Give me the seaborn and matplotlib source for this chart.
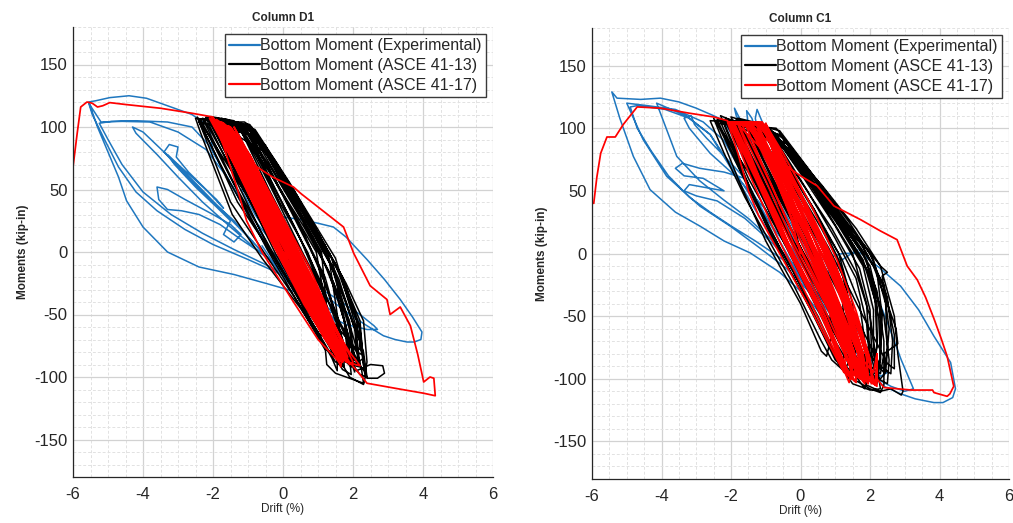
import matplotlib
matplotlib.use("Agg")
import matplotlib.pyplot as plt
import seaborn as sns
import pandas as pd
from matplotlib.ticker import MultipleLocator

# ---------------- data (drift %, moment kip-in) ----------------
series_labels = ["Bottom Moment (Experimental)", "Bottom Moment (ASCE 41-13)", "Bottom Moment (ASCE 41-17)"]
panel_titles = ["Column D1", "Column C1"]
x_ticks = [-6, -4, -2, 0, 2, 4, 6]
y_ticks = [-150, -100, -50, 0, 50, 100, 150]

d1_exp = [
    (0.0, 0), (-0.6, 30), (-1.2, 62), (-1.6, 88), (-1.75, 103), (-1.6, 100), (-1.0, 68), (-0.3, 30), (0.3, 0),
    (0.8, -25), (1.1, -42), (0.9, -44), (0.3, -20), (-0.5, 20), (-1.1, 55), (-1.5, 80), (-1.9, 104), (-1.7, 103),
    (-1.2, 78), (-0.5, 40), (0.2, 5), (0.9, -32), (1.3, -50), (1.1, -52), (0.4, -30), (-0.4, 0),
    (-1.0, 30), (-1.6, 60), (-2.1, 85), (-2.6, 100), (-3.3, 104), (-4.2, 105), (-4.9, 104.5), (-5.25, 103),
    (-5.0, 90), (-4.6, 70), (-4.0, 48), (-3.2, 30), (-2.3, 15), (-1.4, 2), (-0.5, -10), (0.3, -22), (1.0, -36),
    (1.4, -48), (1.2, -50), (0.6, -35), (-0.2, -12),
    (-1.0, 12), (-1.8, 35), (-2.6, 58), (-3.4, 80), (-4.0, 96), (-4.3, 100), (-4.2, 95), (-3.6, 78), (-3.0, 60),
    (-2.3, 40), (-1.5, 20), (-0.8, 3), (0.0, -15), (0.7, -30), (1.2, -42), (1.0, -44), (0.3, -25),
    (-0.6, 0), (-1.4, 25), (-2.2, 45), (-2.8, 62), (-3.2, 74), (-3.4, 80), (-3.25, 86), (-3.0, 84), (-3.05, 76),
    (-2.7, 64), (-2.2, 50), (-1.7, 35), (-1.9, 42), (-2.4, 55), (-3.0, 70), (-3.3, 78), (-3.1, 70), (-2.5, 52),
    (-1.9, 36), (-1.5, 25), (-1.7, 14), (-1.4, 8), (-1.2, 14), (-1.5, 22),
    (-2.0, 30), (-2.8, 42), (-3.3, 50), (-3.6, 52), (-3.55, 42), (-3.3, 34), (-2.9, 33), (-2.4, 30), (-1.8, 22),
    (-1.2, 10), (-0.4, -5), (0.4, -20), (1.0, -35),
    (0.2, -10), (-0.8, 25), (-1.5, 55), (-2.0, 80), (-2.1, 100), (-2.6, 110), (-3.2, 116), (-3.9, 123), (-4.4, 125),
    (-4.95, 123.5), (-5.35, 121), (-5.55, 120), (-5.3, 100), (-5.0, 80), (-4.7, 60), (-4.47, 41), (-4.0, 20),
    (-3.3, 0), (-2.4, -12), (-1.4, -18), (-0.5, -25), (0.5, -33), (1.2, -45), (1.5, -55), (1.3, -56), (0.6, -35),
    (-0.2, -5),
    (-1.0, 30), (-1.6, 60), (-2.2, 82), (-3.0, 96), (-3.8, 104), (-4.6, 104.5), (-5.2, 104), (-5.55, 119),
    (-5.45, 110), (-5.1, 90), (-4.7, 68), (-4.2, 48), (-3.6, 33), (-2.8, 18), (-2.0, 6), (-1.0, -6), (-0.2, -16),
    (0.6, -28),
    (-0.2, 5), (-0.8, 30), (-1.2, 50), (-1.0, 48), (-0.5, 35), (0.0, 28), (0.5, 26), (1.0, 23), (1.44, 20),
    (1.8, 12), (2.4, -6), (2.9, -22), (3.35, -38), (3.7, -52), (3.97, -64), (3.94, -70), (3.75, -72), (3.54, -72),
    (3.2, -70), (2.87, -67), (2.4, -59), (1.9, -50), (1.44, -40), (0.9, -30), (0.3, -18), (-0.3, 0),
    (0.5, -20), (1.4, -35), (2.2, -50), (2.6, -59), (2.7, -62), (2.4, -62), (1.8, -58), (1.2, -50), (0.6, -38),
    (0.0, -20), (-0.6, 5),
]

d1_asce13 = [
    (0.0, 0),
    (-2.45, 108), (-1.5, 40), (-0.55, 0), (1.05, -66), (1.3, -70), (1.2, -40), (0.95, 0), (-0.3, 60), (-1.0, 100), (-1.3, 104),
    (-2.35, 106), (-0.45, 2), (1.2, -78), (1.4, -80), (1.25, -45), (1.1, 0), (-0.2, 62), (-0.95, 98), (-1.2, 102),
    (-2.2, 107), (-0.35, 0), (1.5, -88), (1.7, -90), (1.55, -50), (1.3, -2), (0.0, 58), (-0.9, 100), (-1.1, 104),
    (-2.05, 104), (-0.2, -2), (1.7, -94), (1.95, -98), (1.8, -60), (1.4, -5), (0.2, 55), (-0.8, 98), (-1.15, 102),
    (-1.95, 103), (-0.1, 0), (1.9, -100), (2.3, -106), (2.35, -100), (2.2, -70), (1.5, -5), (0.3, 50), (-0.95, 102),
    (-2.5, 107), (-2.35, 95), (-1.45, 30), (-0.6, -5), (0.5, -45), (1.2, -75), (1.25, -90), (1.5, -97), (2.0, -102),
    (2.3, -105), (2.25, -95), (2.05, -72), (1.45, -15), (0.6, 30), (-0.5, 80), (-1.0, 100), (-1.6, 106), (-2.2, 108),
    (-2.3, 100), (-1.3, 40), (-0.3, -2), (0.9, -55), (1.6, -85), (1.8, -88), (1.7, -70), (1.2, -20), (0.4, 25), (-0.5, 72), (-1.2, 102),
    (-1.8, 104), (-0.8, 45), (0.2, -10), (1.3, -62), (2.1, -95), (2.5, -90), (2.85, -91), (2.9, -97), (2.7, -101),
    (2.4, -101), (2.3, -90), (2.2, -55), (1.6, -15), (0.8, 25), (-0.2, 70), (-0.9, 97),
    (-1.6, 102), (-0.6, 42), (0.3, -8), (1.2, -55), (1.8, -82), (2.0, -84), (1.9, -62), (1.4, -12), (0.5, 32), (-0.4, 75), (-1.05, 101),
    (-2.1, 105), (-1.0, 45), (0.0, -5), (1.1, -60), (1.6, -90), (1.75, -92), (1.7, -70), (1.1, -25), (0.3, 22), (-0.6, 70), (-1.3, 103),
    (-1.9, 106), (-0.9, 48), (0.1, -8), (1.2, -58), (1.9, -90), (2.2, -92), (2.1, -65), (1.5, -18), (0.7, 28), (-0.1, 65), (-0.85, 98),
    (-1.5, 104), (-0.5, 45), (0.5, -12), (1.4, -55), (2.0, -75), (2.2, -78), (2.2, -60), (1.7, -20), (1.0, 15), (0.0, 62), (-0.7, 92),
    (-1.7, 100), (-0.7, 40), (0.4, -20), (1.3, -65), (2.2, -98), (2.4, -100), (2.3, -80), (1.8, -40), (1.2, 0), (0.4, 40), (-0.5, 85), (-1.0, 100),
    (-2.25, 106), (-1.1, 48), (-0.1, -3), (1.0, -55), (1.5, -72), (1.6, -73), (1.6, -55), (1.0, -10), (0.0, 45), (-0.9, 92), (-1.4, 105),
    (-2.0, 108), (-1.2, 62), (-0.2, 10), (0.8, -40), (1.5, -70), (1.9, -88), (2.05, -86), (1.9, -55), (1.3, -15), (0.6, 20), (-0.3, 60), (-1.1, 95),
    (-2.4, 104), (-1.6, 60), (-0.8, 20), (0.3, -30), (1.0, -60), (1.3, -72), (1.35, -65), (1.2, -35), (0.7, 0), (-0.1, 40), (-0.8, 80), (-1.3, 100),
    (-1.75, 107), (-0.75, 50), (0.2, 0), (1.1, -45), (1.8, -78), (2.35, -96), (2.4, -88), (2.3, -55), (1.8, -25), (1.0, 15), (0.0, 60), (-0.8, 97),
    (-1.25, 100), (-0.4, 50), (0.6, -5), (1.5, -50), (2.1, -80), (2.25, -82), (2.1, -55), (1.5, -10), (0.7, 30), (-0.2, 72), (-0.9, 100),
    (-2.15, 107), (-1.2, 55), (-0.3, 8), (0.8, -45), (1.5, -78), (1.7, -82), (1.6, -60), (1.2, -25), (0.6, 15), (-0.3, 62), (-1.0, 96),
    (-1.85, 105), (-0.95, 55), (0.0, 5), (1.0, -48), (1.7, -85), (1.95, -92), (1.85, -65), (1.45, -25), (0.85, 12), (0.0, 55), (-0.75, 92),
    (-2.3, 107), (-1.4, 55), (-0.5, 10), (0.6, -45), (1.4, -85), (1.55, -95), (1.55, -70), (1.1, -30), (0.5, 10), (-0.3, 55), (-1.05, 98),
    (-1.45, 105), (-0.6, 55), (0.4, 0), (1.3, -50), (2.0, -88), (2.15, -90), (2.05, -62), (1.6, -22), (0.95, 15), (0.2, 52), (-0.6, 88),
    (-1.65, 104), (-0.7, 50), (0.3, -5), (1.25, -55), (1.9, -85), (2.05, -96), (1.95, -75), (1.55, -35), (1.05, 0), (0.3, 40), (-0.5, 80),
    (-2.0, 104), (-1.05, 50), (-0.05, 0), (0.95, -50), (1.65, -88), (1.85, -85), (1.75, -55), (1.3, -15), (0.55, 25), (-0.3, 65), (-1.1, 100),
    (-1.3, 104), (-0.35, 52), (0.55, 0), (1.45, -48), (2.15, -88), (2.3, -85), (2.2, -62), (1.75, -25), (1.2, 5), (0.4, 45), (-0.4, 80), (-1.0, 102),
]

d1_asce17 = [
    (-6.0, 68), (-5.88, 95), (-5.78, 116), (-5.6, 120), (-5.45, 119), (-5.3, 116), (-5.15, 117), (-4.95, 119.5),
    (-4.5, 118), (-3.5, 115), (-2.6, 111), (-2.0, 108),
    (-1.2, 62), (-0.3, 8), (0.8, -50), (1.4, -78), (1.5, -75), (0.9, -40), (0.2, 0), (-0.8, 55), (-1.6, 100),
    (-1.9, 106), (-1.0, 55), (-0.2, 5), (0.9, -52), (1.6, -84), (1.7, -82), (1.1, -45), (0.4, -5), (-0.6, 50), (-1.5, 98),
    (-1.8, 104), (-0.9, 52), (-0.05, 2), (1.0, -55), (1.7, -88), (1.8, -85), (1.2, -48), (0.5, -8), (-0.5, 45), (-1.4, 96),
    (-2.05, 107), (-1.1, 55), (-0.25, 6), (0.7, -45), (1.3, -70), (1.35, -68), (0.8, -35), (0.1, 5), (-0.8, 52), (-1.6, 98),
    (-1.7, 103), (-0.8, 50), (0.1, 0), (1.1, -55), (1.65, -80), (1.75, -78), (1.3, -50), (0.6, -10), (-0.4, 42), (-1.3, 90),
    (-1.55, 101), (-0.7, 48), (0.2, -3), (1.2, -58), (1.9, -90), (2.0, -88), (1.5, -60), (0.75, -12), (-0.2, 38), (-1.1, 85),
    (-1.4, 100), (-0.85, 70), (-0.3, 60), (0.3, 52), (0.5, 47), (1.0, 36), (1.73, 20), (2.02, -1), (2.49, -27),
    (2.97, -38), (3.06, -50), (3.35, -44), (3.64, -59), (3.85, -82), (4.02, -104), (4.2, -100), (4.31, -101),
    (4.35, -115), (4.02, -113), (3.2, -109), (2.4, -105), (2.2, -98), (1.9, -88), (1.6, -75), (0.9, -40), (0.2, 2),
    (-0.7, 52), (-1.5, 98),
    (-1.95, 105), (-1.05, 52), (-0.15, 3), (0.85, -48), (1.5, -80), (1.65, -92), (1.7, -82), (1.25, -52), (0.55, -10), (-0.35, 40), (-1.25, 92),
    (-2.0, 106), (-1.15, 58), (-0.35, 10), (0.6, -40), (1.25, -72), (1.35, -70), (0.9, -45), (0.3, -8), (-0.55, 40), (-1.4, 92),
    (-1.75, 104), (-0.85, 52), (0.0, 0), (1.0, -52), (1.6, -82), (1.75, -84), (1.3, -56), (0.65, -15), (-0.25, 35), (-1.2, 88),
    (-1.65, 102), (-0.75, 50), (0.15, -2), (1.15, -58), (1.8, -88), (2.2, -91), (1.9, -80), (1.35, -55), (0.7, -18), (-0.15, 30), (-1.0, 80),
    (-1.85, 103), (-1.0, 55), (-0.1, 5), (0.95, -50), (1.55, -82), (1.6, -80), (1.15, -50), (0.45, -10), (-0.45, 40), (-1.3, 92),
    (-1.5, 100), (-0.65, 48), (0.3, -5), (1.25, -60), (1.75, -82), (1.8, -78), (1.4, -55), (0.8, -22), (0.0, 25), (-0.9, 75), (-1.55, 98),
    (-2.1, 107), (-1.3, 66), (-0.5, 22), (0.5, -35), (1.1, -65), (1.2, -70), (0.85, -42), (0.2, -5), (-0.6, 42), (-1.4, 90),
    (-1.9, 104), (-1.0, 50), (0.0, -3), (0.9, -48), (1.5, -80), (1.6, -77), (1.2, -50), (0.5, -12), (-0.3, 32), (-1.1, 80),
    (-1.6, 100), (-0.7, 45), (0.25, -8), (1.2, -60), (1.65, -85), (1.75, -82), (1.35, -58), (0.7, -20), (-0.1, 25), (-0.9, 72), (-1.45, 98),
    (-1.8, 103), (-1.05, 60), (-0.2, 10), (0.7, -42), (1.45, -78), (1.5, -75), (1.05, -45), (0.35, -8), (-0.5, 38), (-1.2, 80),
    (-1.95, 106), (-1.05, 56), (-0.2, 6), (0.85, -50), (1.5, -82), (1.55, -78), (1.0, -44), (0.35, -6), (-0.55, 45), (-1.45, 96),
    (-1.7, 102), (-0.9, 58), (-0.05, 8), (0.95, -46), (1.6, -82), (1.7, -79), (1.2, -48), (0.5, -8), (-0.35, 40), (-1.2, 88),
    (-2.05, 106), (-1.2, 60), (-0.4, 12), (0.6, -42), (1.35, -76), (1.45, -74), (0.95, -45), (0.25, -5), (-0.65, 45), (-1.5, 96),
    (-1.8, 104), (-0.95, 53), (-0.1, 2), (0.9, -52), (1.55, -85), (1.7, -88), (1.35, -60), (0.6, -14), (-0.3, 36), (-1.15, 86),
    (-1.6, 101), (-0.75, 50), (0.1, 0), (1.05, -53), (1.7, -86), (1.85, -84), (1.45, -58), (0.75, -16), (-0.05, 28), (-0.95, 78),
    (-2.0, 105), (-1.15, 56), (-0.25, 5), (0.75, -46), (1.45, -80), (1.55, -79), (1.05, -48), (0.4, -10), (-0.45, 38), (-1.35, 92),
    (-1.85, 104), (-1.0, 54), (-0.15, 4), (0.9, -50), (1.6, -84), (1.65, -80), (1.2, -52), (0.55, -12), (-0.35, 36), (-1.25, 90),
    (-1.7, 103), (-0.85, 52), (0.05, 1), (1.0, -52), (1.65, -85), (1.7, -82), (1.3, -56), (0.65, -15), (-0.2, 30), (-1.05, 82),
    (-2.0, 107), (-1.7, 85), (-1.3, 50), (-1.04, 25), (-0.6, 0), (0.3, -40), (1.0, -70), (1.6, -88), (1.7, -85),
    (1.2, -55), (0.4, -10), (0.0, 0),
]

c1_exp = [
    (0.0, 0), (-0.7, 40), (-1.3, 80), (-1.7, 105), (-1.9, 116), (-1.85, 110), (-1.4, 85), (-0.6, 40), (0.3, -5),
    (1.0, -40), (1.6, -70), (1.8, -80), (1.6, -78), (0.9, -45), (0.0, -5), (-0.8, 40), (-1.3, 75), (-1.5, 100),
    (-1.55, 114), (-1.4, 108), (-1.2, 92), (-1.3, 108), (-1.25, 115), (-1.1, 105), (-0.6, 70), (0.2, 25), (1.0, -25),
    (1.7, -65), (2.1, -88), (2.4, -92), (2.5, -95), (2.3, -98), (2.0, -90), (1.3, -55), (0.4, -10),
    (-0.5, 10), (-1.3, 40), (-2.0, 70), (-2.6, 95), (-3.2, 108), (-3.9, 115), (-4.4, 117), (-4.7, 118), (-4.9, 117),
    (-4.7, 100), (-4.3, 82), (-3.8, 62), (-3.2, 45), (-2.6, 33), (-2.0, 22), (-1.3, 10), (-0.5, -5), (0.3, -25),
    (1.0, -50), (1.5, -72),
    (0.8, -40), (-0.2, 0), (-1.0, 35), (-1.8, 60), (-2.6, 80), (-3.2, 100), (-3.35, 108), (-3.15, 110), (-3.05, 103),
    (-2.7, 92), (-2.2, 78), (-1.6, 60), (-2.2, 65), (-2.9, 68), (-3.4, 72), (-3.6, 68), (-3.35, 62), (-2.8, 60),
    (-2.2, 50), (-2.6, 52), (-3.2, 55), (-3.35, 50), (-3.0, 46), (-2.4, 42), (-1.6, 28), (-0.8, 8), (0.1, -20),
    (0.9, -50), (1.5, -75),
    (1.0, -50), (0.3, -20), (-0.5, 15), (-1.2, 50), (-1.8, 85), (-2.2, 106), (-2.5, 110), (-3.0, 116), (-3.5, 121),
    (-4.03, 124), (-4.6, 123), (-5.28, 124), (-5.43, 129), (-5.2, 108), (-4.81, 77.5), (-4.33, 51), (-3.6, 33),
    (-2.89, 21.8), (-2.2, 10), (-1.45, 0.5), (-0.6, -15), (0.2, -35), (0.9, -60), (1.4, -80),
    (0.8, -55), (0.0, -20), (-0.8, 20), (-1.6, 60), (-2.2, 90), (-2.8, 105), (-3.6, 115), (-4.4, 118), (-5.0, 120),
    (-4.53, 91), (-3.85, 61.6), (-2.89, 37.7), (-2.02, 21.8), (-1.2, 5), (-0.4, -12), (0.4, -35), (1.1, -62),
    (0.5, -40), (-0.4, -5), (-1.2, 30), (-2.0, 68), (-2.6, 95), (-3.3, 110), (-4.14, 120), (-3.56, 77.5), (-2.9, 58),
    (-2.22, 43), (-1.5, 28), (-0.8, 10), (0.0, -15), (0.7, -40), (1.3, -65),
    (1.0, -45), (0.5, -20), (0.8, -15), (1.2, -5), (1.63, 3), (2.0, -20), (2.5, -55), (2.9, -85), (3.25, -108),
    (3.0, -110), (2.6, -106), (2.2, -100), (1.8, -88), (1.2, -60), (0.6, -30), (0.2, -10),
    (0.6, -5), (1.2, 0), (1.73, 0.5), (2.3, -12), (2.88, -26), (3.4, -45), (3.84, -66), (4.32, -87), (4.46, -108),
    (4.38, -115), (4.1, -119), (3.84, -119), (3.3, -116), (2.88, -112), (2.4, -106), (2.0, -95), (1.4, -70), (0.8, -45),
]

c1_asce13 = [
    (0.0, 0),
    (-2.5, 108), (-1.8, 60), (-1.0, 10), (0.0, -40), (0.6, -78), (0.75, -82), (0.9, -65), (0.8, -30), (0.4, 0), (-0.6, 55), (-1.5, 100),
    (-2.3, 110), (-1.6, 62), (-0.8, 12), (0.3, -45), (1.0, -85), (1.2, -90), (1.3, -70), (1.2, -35), (0.8, 0), (-0.2, 50), (-1.2, 98),
    (-2.1, 106), (-1.3, 58), (-0.5, 10), (0.5, -45), (1.3, -90), (1.5, -95), (1.6, -75), (1.5, -40), (1.1, 0), (0.0, 52), (-1.0, 100),
    (-1.9, 105), (-1.1, 58), (-0.3, 12), (0.7, -45), (1.6, -95), (1.9, -102), (2.0, -80), (1.9, -40), (1.5, 0), (0.4, 50), (-0.5, 88), (-1.1, 104),
    (-2.6, 106), (-2.2, 80), (-1.6, 45), (-1.0, 15), (-0.2, -25), (0.6, -70), (0.9, -85), (1.5, -100), (2.0, -108),
    (2.3, -111), (2.4, -105), (2.4, -70), (2.2, -30), (1.8, 0), (1.0, 30), (0.2, 60), (-0.7, 95), (-1.05, 103),
    (-1.8, 108), (-1.0, 60), (-0.1, 10), (0.9, -45), (1.8, -98), (2.1, -103), (2.3, -85), (2.35, -50), (2.2, -15), (1.6, 15), (0.7, 45), (-0.3, 80), (-1.0, 100),
    (-2.2, 104), (-1.5, 60), (-0.6, 15), (0.4, -35), (1.4, -85), (1.9, -105), (2.3, -110), (2.6, -108), (2.9, -113),
    (2.95, -110), (2.8, -80), (2.7, -50), (2.3, -10), (1.6, 20), (0.6, 55), (-0.4, 85), (-1.2, 105),
    (-1.6, 104), (-0.8, 58), (0.1, 10), (1.0, -40), (1.8, -85), (2.1, -92), (2.2, -75), (2.2, -40), (1.9, -5), (1.2, 28), (0.3, 62), (-0.6, 95),
    (-2.4, 107), (-1.7, 65), (-1.0, 25), (-0.2, -15), (0.6, -60), (1.1, -88), (1.3, -92), (1.5, -78), (1.4, -40), (1.1, -5), (0.4, 35), (-0.5, 75), (-1.3, 103),
    (-2.0, 109), (-1.2, 62), (-0.4, 18), (0.6, -35), (1.5, -80), (2.3, -100), (2.45, -95), (2.55, -60), (2.35, -18),
    (2.5, -15), (2.3, -10), (1.8, 8), (1.05, 24), (1.1, 30), (0.5, 50), (-0.4, 82), (-1.1, 102),
    (-1.45, 103), (-0.6, 55), (0.3, 5), (1.2, -45), (2.0, -90), (2.3, -96), (2.4, -80), (2.8, -72), (2.75, -60),
    (2.5, -40), (2.1, -10), (1.3, 22), (0.4, 55), (-0.5, 88), (-1.2, 104),
    (-2.3, 105), (-1.5, 55), (-0.6, 5), (0.5, -50), (1.2, -92), (1.5, -104), (2.0, -109), (2.3, -108), (2.2, -90), (2.0, -50), (1.6, -15), (0.9, 20), (0.0, 58), (-0.9, 95),
    (-1.7, 102), (-0.9, 55), (0.0, 5), (0.9, -42), (1.7, -88), (1.95, -95), (2.05, -80), (2.0, -45), (1.7, -12), (1.0, 22), (0.1, 60), (-0.8, 96),
    (-2.15, 108), (-1.4, 62), (-0.7, 22), (0.2, -25), (1.0, -70), (1.6, -98), (1.8, -100), (1.9, -80), (1.7, -40), (1.2, -5), (0.5, 30), (-0.4, 72), (-1.3, 104),
    (-1.9, 106), (-1.0, 55), (0.0, 5), (1.0, -45), (1.9, -92), (2.2, -100), (2.3, -80), (2.3, -45), (2.0, -10), (1.3, 20), (0.4, 55), (-0.5, 88),
    (-1.5, 104), (-0.6, 55), (0.4, 5), (1.3, -42), (2.1, -85), (2.4, -95), (2.5, -75), (2.45, -40), (2.1, -5), (1.4, 25), (0.5, 58), (-0.4, 88),
    (-2.0, 107), (-1.1, 58), (-0.2, 10), (0.8, -40), (1.7, -88), (2.0, -98), (2.1, -80), (2.1, -45), (1.8, -10), (1.1, 22), (0.2, 58), (-0.7, 92),
    (-1.3, 104), (-0.4, 55), (0.6, 5), (1.5, -45), (2.3, -90), (2.6, -96), (2.65, -70), (2.5, -35), (2.0, 0), (1.2, 30), (0.3, 65), (-0.6, 98),
    (-1.75, 106), (-0.85, 58), (0.2, 5), (1.2, -48), (2.0, -95), (2.2, -104), (2.3, -85), (2.25, -50), (1.95, -15), (1.3, 15), (0.5, 48), (-0.3, 82),
    (-2.2, 107), (-1.3, 60), (-0.4, 10), (0.7, -48), (1.6, -98), (1.85, -108), (2.0, -90), (1.9, -55), (1.6, -20), (1.0, 12), (0.2, 50), (-0.7, 90),
    (-1.6, 105), (-0.7, 55), (0.3, 2), (1.3, -52), (2.1, -98), (2.5, -104), (2.55, -85), (2.4, -50), (1.9, -12), (1.2, 22), (0.3, 60), (-0.5, 92),
    (-1.2, 104), (-0.3, 58), (0.8, 5), (1.8, -50), (2.5, -88), (2.7, -92), (2.7, -65), (2.4, -25), (1.8, 5), (1.0, 35), (0.2, 68), (-0.7, 100),
    (-2.4, 104), (-1.6, 58), (-0.8, 12), (0.2, -40), (1.1, -88), (1.4, -98), (1.55, -80), (1.45, -45), (1.2, -12), (0.6, 20), (-0.3, 62), (-1.0, 98),
    (-1.85, 107), (-0.9, 58), (0.1, 8), (1.1, -45), (1.9, -90), (2.1, -95), (2.2, -72), (2.15, -38), (1.8, -5), (1.1, 25), (0.2, 60), (-0.7, 95),
    (0.0, 0),
]

c1_asce17 = [
    (-5.95, 40), (-5.86, 61), (-5.75, 80), (-5.57, 93), (-5.33, 93), (-5.1, 103), (-4.7, 117), (-4.03, 116),
    (-3.2, 112), (-2.5, 109), (-2.1, 106),
    (-1.3, 60), (-0.4, 5), (0.6, -50), (1.3, -95), (1.45, -100), (1.4, -75), (1.0, -40), (0.4, 0), (-0.5, 50), (-1.4, 100), (-1.9, 104),
    (-1.1, 55), (-0.3, 5), (0.7, -50), (1.4, -98), (1.6, -103), (1.55, -80), (1.1, -40), (0.5, -2), (-0.4, 48), (-1.2, 100), (-1.3, 105),
    (-0.6, 58), (0.1, 10), (0.9, -45), (1.6, -95), (1.85, -104), (1.8, -85), (1.4, -50), (0.8, -8), (0.0, 45), (-1.0, 104),
    (-0.4, 60), (0.3, 12), (1.1, -45), (1.8, -98), (2.2, -106), (2.2, -80), (2.15, -105), (1.9, -80), (1.4, -40), (0.8, 0), (-0.1, 52), (-1.1, 105),
    (-2.05, 105), (-1.5, 65), (-0.7, 15), (0.3, -40), (1.2, -90), (1.4, -103), (1.5, -90), (1.2, -55), (0.7, -15), (-0.1, 30), (-1.0, 80), (-1.8, 103),
    (-1.2, 62), (-0.3, 10), (0.7, -45), (1.5, -95), (1.75, -100), (1.7, -78), (1.3, -40), (0.6, 0), (-0.3, 50), (-1.05, 102),
    (-0.5, 60), (0.2, 15), (1.0, -38), (1.9, -95), (2.1, -104), (2.0, -85), (1.6, -50), (1.0, -10), (0.3, 30), (-0.5, 72), (-1.2, 104),
    (-2.1, 105), (-1.8, 80), (-1.5, 50), (-1.2, 30), (-0.6, 0), (0.3, -45), (1.0, -82), (1.25, -95), (1.3, -80),
    (1.0, -50), (0.5, -15), (-0.3, 32), (-1.1, 85), (-1.6, 104),
    (-1.0, 65), (-0.2, 15), (0.8, -40), (1.6, -95), (1.9, -100), (1.8, -80), (1.4, -45), (0.9, -10), (0.3, 25), (-0.4, 60), (-1.0, 100),
    (-0.67, 75), (0.0, 62), (0.48, 54), (0.96, 38), (1.73, 27), (2.3, 18), (2.78, 11), (3.07, -10), (3.36, -21),
    (3.6, -35), (3.84, -52), (4.05, -68), (4.22, -82), (4.41, -106), (4.3, -112), (4.22, -114), (3.84, -111),
    (3.8, -109), (3.2, -109), (2.4, -107), (2.2, -100), (2.2, -80), (2.1, -95), (1.8, -85), (1.3, -55), (0.7, -18),
    (0.0, 28), (-0.8, 78), (-1.5, 103),
    (-2.0, 104), (-1.3, 62), (-0.5, 12), (0.5, -42), (1.3, -92), (1.5, -98), (1.45, -78), (1.0, -42), (0.4, -5), (-0.4, 42), (-1.2, 92),
    (-1.4, 102), (-0.6, 55), (0.15, 8), (1.0, -45), (1.7, -95), (1.95, -104), (1.9, -82), (1.5, -48), (0.95, -10), (0.2, 35), (-0.6, 75), (-1.1, 102),
    (-1.8, 104), (-1.0, 58), (-0.2, 8), (0.8, -45), (1.5, -96), (1.7, -100), (1.65, -80), (1.25, -42), (0.7, -5), (-0.1, 40), (-1.0, 95),
    (-1.25, 104), (-0.5, 60), (0.2, 12), (1.0, -42), (1.75, -96), (1.95, -102), (1.9, -82), (1.5, -45), (0.95, -5), (0.2, 38), (-0.6, 82), (-1.1, 104),
    (-2.0, 105), (-1.2, 58), (-0.4, 8), (0.6, -48), (1.35, -96), (1.5, -100), (1.45, -78), (1.05, -42), (0.5, -3), (-0.3, 42), (-1.2, 95),
    (-1.5, 103), (-0.7, 58), (0.0, 10), (0.9, -44), (1.65, -96), (1.8, -101), (1.75, -80), (1.35, -44), (0.85, -6), (0.1, 40), (-0.8, 90),
    (-1.1, 104), (-0.35, 60), (0.35, 14), (1.15, -42), (1.9, -98), (2.05, -104), (2.0, -84), (1.6, -46), (1.05, -5), (0.35, 36), (-0.5, 80), (-1.0, 103),
    (-1.95, 104), (-1.15, 58), (-0.35, 8), (0.65, -46), (1.4, -96), (1.6, -102), (1.55, -80), (1.15, -44), (0.6, -6), (-0.2, 40), (-1.1, 94),
    (-1.4, 103), (-0.6, 58), (0.1, 10), (0.95, -44), (1.7, -97), (1.85, -100), (1.8, -80), (1.4, -44), (0.9, -6), (0.15, 38), (-0.7, 86),
    (-1.7, 104), (-0.9, 58), (-0.1, 8), (0.85, -46), (1.55, -97), (1.75, -100), (1.7, -80), (1.3, -42), (0.75, -4), (0.0, 40), (-0.9, 92),
    (0.0, 0),
]

colors = ["#1f77bf", "#000000", "#ff0000"]
widths = [1.1, 1.1, 1.25]

# ---------------- style ----------------
sns.set_style("white")
plt.rcParams['font.family'] = ['Liberation Sans', 'DejaVu Sans']
plt.rcParams['axes.unicode_minus'] = False

fig = plt.figure(figsize=(10.13, 5.23), dpi=100)
ax_d1 = fig.add_axes([73 / 1013, 46 / 523, 420 / 1013, 450 / 523])
ax_c1 = fig.add_axes([592 / 1013, 44 / 523, 417 / 1013, 451 / 523])

panels = [
    (ax_d1, panel_titles[0], [d1_exp, d1_asce13, d1_asce17]),
    (ax_c1, panel_titles[1], [c1_exp, c1_asce13, c1_asce17]),
]

for ax, title, data in panels:
    for pts, col, lw, lab in zip(data, colors, widths, series_labels):
        df = pd.DataFrame(pts, columns=["drift", "moment"])
        sns.lineplot(data=df, x="drift", y="moment", sort=False, estimator=None,
                     color=col, lw=lw, ax=ax, label=lab)
    ax.set_xlim(-6, 6)
    ax.set_ylim(-180, 180)
    ax.set_xticks(x_ticks)
    ax.set_yticks(y_ticks)
    ax.xaxis.set_minor_locator(MultipleLocator(0.5))
    ax.yaxis.set_minor_locator(MultipleLocator(10))
    ax.grid(which="major", color="#d2d2d2", lw=0.9, ls="-")
    ax.grid(which="minor", color="#e2e2e2", lw=0.7, ls=(0, (3, 2)))
    ax.set_axisbelow(True)
    for s in ["top", "right"]:
        ax.spines[s].set_visible(False)
    for s in ["left", "bottom"]:
        ax.spines[s].set_color("#262626")
        ax.spines[s].set_linewidth(0.9)
    ax.tick_params(which="major", direction="in", length=4, width=0.8, color="#262626",
                   labelsize=12, labelcolor="#262626")
    ax.tick_params(axis="x", which="major", pad=7)
    ax.tick_params(axis="y", which="major", pad=4)
    ax.tick_params(which="minor", length=0)
    ax.set_title(title, fontsize=8.5, fontweight="bold", pad=4)
    ax.set_xlabel("Drift (%)", fontsize=8.5, labelpad=1, color="#262626")
    ax.set_ylabel("Moments (kip-in)", fontsize=8.5, fontweight="bold", labelpad=4, color="#262626")
    leg = ax.legend(loc="upper right", fontsize=11.5, frameon=True, fancybox=False, framealpha=1,
                    edgecolor="#3a3a3a", handlelength=1.9, handletextpad=0.05, labelspacing=0.3,
                    borderpad=0.25, borderaxespad=0.45)
    leg.get_frame().set_linewidth(1.0)
    for line in leg.get_lines():
        line.set_linewidth(1.6)

fig.savefig("out.png", dpi=100)
